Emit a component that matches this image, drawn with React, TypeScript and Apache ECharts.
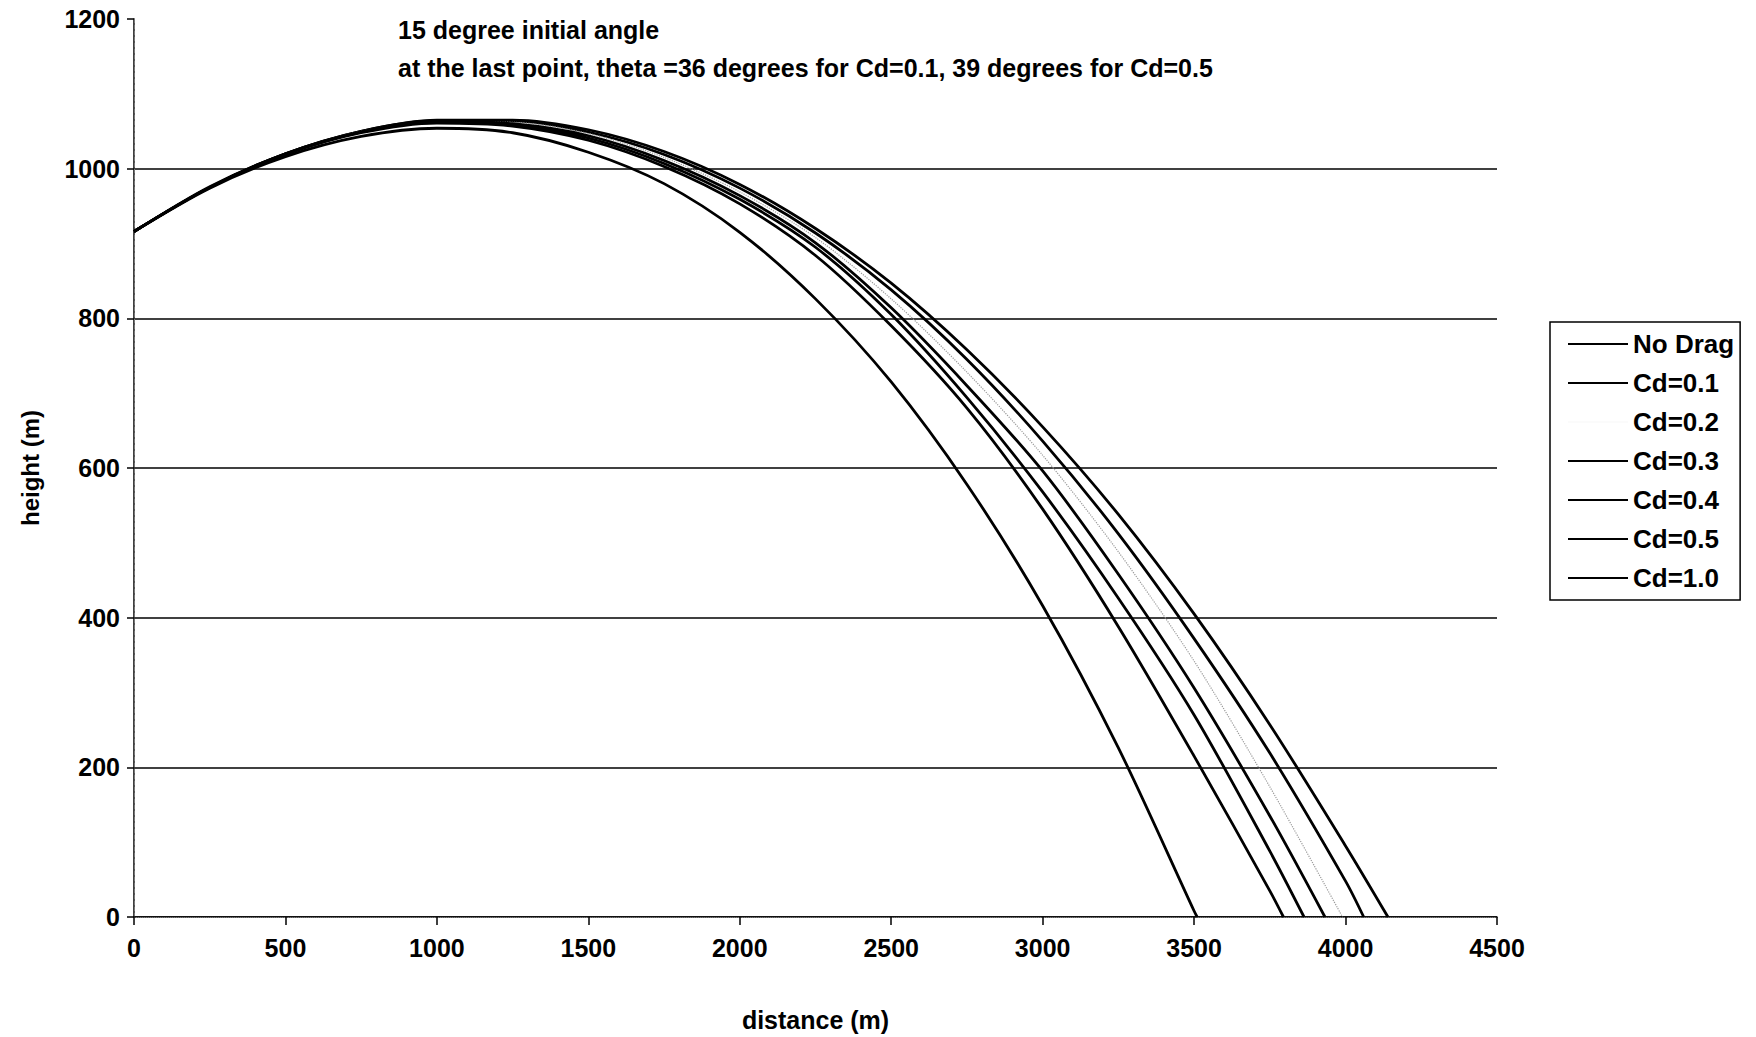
import React, { useEffect, useRef } from "react";
import * as echarts from "echarts";

const titleLine1 = "15 degree initial angle";
const titleLine2 = "at the last point, theta =36 degrees for Cd=0.1, 39 degrees for Cd=0.5";
const xName = "distance (m)";
const yName = "height (m)";

const seriesNames = ["No Drag", "Cd=0.1", "Cd=0.2", "Cd=0.3", "Cd=0.4", "Cd=0.5", "Cd=1.0"];

const noDrag: [number, number][] = [
  [0, 916], [250, 976], [500, 1020], [750, 1050], [1000, 1065], [1250, 1065], [1500, 1052],
  [1750, 1023], [2000, 979], [2250, 920], [2500, 847], [2750, 758], [3000, 655], [3250, 538],
  [3500, 405], [3750, 257], [4000, 95], [4140, 0],
];
const cd01: [number, number][] = [
  [0, 916], [250, 975], [500, 1020], [750, 1050], [1000, 1064], [1250, 1064], [1500, 1049],
  [1750, 1019], [2000, 974], [2250, 914], [2500, 838], [2750, 745], [3000, 636], [3250, 512],
  [3500, 372], [3750, 219], [4000, 48], [4060, 0],
];
const cd02: [number, number][] = [
  [0, 916], [250, 975], [500, 1020], [750, 1050], [1000, 1063], [1250, 1062], [1500, 1047],
  [1750, 1015], [2000, 969], [2250, 908], [2500, 826], [2750, 728], [3000, 617], [3250, 488],
  [3500, 342], [3750, 174], [3990, 0],
];
const cd03: [number, number][] = [
  [0, 916], [250, 975], [500, 1020], [750, 1049], [1000, 1063], [1250, 1060], [1500, 1044],
  [1750, 1011], [2000, 964], [2250, 901], [2500, 814], [2750, 710], [3000, 596], [3250, 458],
  [3500, 306], [3750, 135], [3932, 0],
];
const cd04: [number, number][] = [
  [0, 916], [250, 975], [500, 1019], [750, 1049], [1000, 1062], [1250, 1059], [1500, 1041],
  [1750, 1007], [2000, 959], [2250, 895], [2500, 805], [2750, 694], [3000, 568], [3250, 426],
  [3500, 270], [3750, 88], [3863, 0],
];
const cd05: [number, number][] = [
  [0, 916], [250, 975], [500, 1019], [750, 1048], [1000, 1061], [1250, 1057], [1500, 1038],
  [1750, 1003], [2000, 953], [2250, 884], [2500, 790], [2750, 680], [3000, 545], [3250, 388],
  [3500, 215], [3750, 35], [3795, 0],
];
const cd10: [number, number][] = [
  [0, 916], [250, 974], [500, 1016], [750, 1043], [1000, 1054], [1250, 1048], [1500, 1022],
  [1750, 980], [2000, 915], [2250, 826], [2500, 715], [2750, 578], [3000, 416], [3250, 226],
  [3500, 8], [3510, 0],
];

const seriesData = [noDrag, cd01, cd02, cd03, cd04, cd05, cd10];

const FONT = "Liberation Sans, Arial, sans-serif";

export default function App() {
  const ref = useRef<HTMLDivElement>(null);
  useEffect(() => {
    if (!ref.current) return;
    const chart = echarts.init(ref.current, null, { renderer: "svg" });
    const series = seriesNames.map((name, i) => {
      const isLight = name === "Cd=0.2";
      return {
        name,
        type: "line",
        data: seriesData[i],
        showSymbol: false,
        symbol: "none",
        smooth: 0.3,
        xAxisIndex: 0,
        yAxisIndex: 0,
        lineStyle: isLight
          ? { color: "#9a9a9a", width: 1.2, type: "dotted" }
          : { color: "#000", width: 2.8 },
        itemStyle: { color: isLight ? "#fbfbfb" : "#000" },
      };
    });
    const fmt = (v: number) => String(v);
    chart.setOption({
      animation: false,
      backgroundColor: "#fff",
      textStyle: { fontFamily: FONT, color: "#000" },
      grid: { left: 134, right: 259, top: 19, bottom: 119, containLabel: false },
      legend: {
        data: seriesNames,
        orient: "vertical",
        left: 1550,
        top: 322,
        icon: "rect",
        itemWidth: 60,
        itemHeight: 2,
        itemGap: 11,
        padding: [8, 6, 8, 18],
        borderColor: "#000",
        borderWidth: 1.5,
        textStyle: {
          fontSize: 26,
          fontWeight: "bold",
          fontFamily: FONT,
          color: "#000",
          lineHeight: 28,
          padding: [0, 0, 0, 0],
        },
      },
      xAxis: [
        {
          type: "value",
          min: 0,
          max: 4500,
          interval: 500,
          name: xName,
          nameLocation: "middle",
          nameGap: 90,
          nameTextStyle: { fontSize: 25, fontWeight: "bold", color: "#000", fontFamily: FONT },
          axisLine: { show: true, lineStyle: { color: "#000", width: 1.5 } },
          axisTick: { show: true, inside: false, length: 8, lineStyle: { color: "#000", width: 1.5 } },
          axisLabel: { fontSize: 25, fontWeight: "bold", color: "#000", margin: 18, fontFamily: FONT, formatter: fmt },
          splitLine: { show: false },
        },
        {
          type: "value",
          position: "top",
          min: 0,
          max: 4500,
          interval: 500,
          axisLine: { show: true, lineStyle: { color: "#777", width: 1, type: "dotted" } },
          axisTick: { show: false },
          axisLabel: { show: false },
          splitLine: { show: false },
        },
      ],
      yAxis: [
        {
          type: "value",
          min: 0,
          max: 1200,
          interval: 200,
          name: yName,
          nameLocation: "middle",
          nameGap: 92,
          nameTextStyle: { fontSize: 24, fontWeight: "bold", color: "#000", fontFamily: FONT },
          axisLine: { show: true, lineStyle: { color: "#000", width: 1.5 } },
          axisTick: { show: true, inside: false, length: 7, lineStyle: { color: "#000", width: 1.5 } },
          axisLabel: { fontSize: 25, fontWeight: "bold", color: "#000", margin: 14, fontFamily: FONT, formatter: fmt },
          splitLine: {
            show: true,
            lineStyle: {
              color: ["#000", "#000", "#000", "#000", "#000", "#000", "rgba(0,0,0,0)"],
              width: 1.5,
            },
          },
        },
        {
          type: "value",
          position: "right",
          min: 0,
          max: 1200,
          interval: 200,
          axisLine: { show: true, lineStyle: { color: "#777", width: 1, type: "dashed" } },
          axisTick: { show: false },
          axisLabel: { show: false },
          splitLine: { show: false },
        },
      ],
      graphic: [
        {
          type: "text",
          left: 398,
          top: 17,
          style: { text: titleLine1, fontSize: 25, fontWeight: "bold", fontFamily: FONT, fill: "#000" },
        },
        {
          type: "text",
          left: 398,
          top: 55,
          style: { text: titleLine2, fontSize: 25, fontWeight: "bold", fontFamily: FONT, fill: "#000" },
        },
      ],
      series,
    });
    return () => chart.dispose();
  }, []);
  return (
    <div
      ref={ref}
      style={{ position: "absolute", left: 0, top: 0, width: 1756, height: 1037 }}
    />
  );
}
